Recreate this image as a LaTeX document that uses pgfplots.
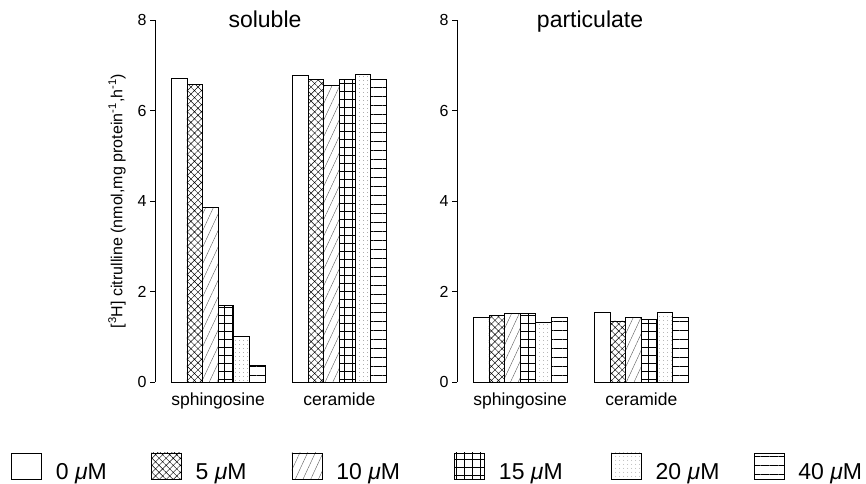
\documentclass[border=0pt]{standalone}
\usepackage{pgfplots}
\pgfplotsset{compat=1.18}
\usetikzlibrary{patterns.meta}
\usepackage{fontspec}
\setmainfont{Liberation Sans}

\newcommand{\lt}[2]{\raisebox{5.5pt}{\makebox[#1][l]{#2 \textit{μ}M}}}

\pgfplotsset{
  mybar/.style={ybar, bar width=0.1286, draw=black, line width=0.7pt,
    legend image code/.code={\draw[##1, line width=0.7pt] (0pt,-4pt) rectangle (30pt,22pt); \path (44pt,0pt);}},
  s0/.style={fill=white},
  s5/.style={pattern={Hatch[angle=45,distance=5pt,line width=0.45pt]}, pattern color=black},
  s10/.style={pattern={Lines[angle=65,distance=7pt,line width=0.4pt]}, pattern color=black!65},
  s15/.style={pattern={Hatch[angle=0,distance=8pt,line width=0.5pt]}, pattern color=black},
  s20/.style={pattern={Dots[distance=4pt,radius=0.45pt]}, pattern color=black!55},
  s40/.style={pattern={Lines[angle=0,distance=9pt,line width=0.6pt]}, pattern color=black},
  common/.style={
    scale only axis, width=245pt, height=362pt,
    xmin=-0.52, xmax=1.5, ymin=0, ymax=8,
    axis y line*=left, axis x line*=bottom,
    x axis line style={draw=none}, xtick style={draw=none},
    xtick={0,1}, xticklabels={sphingosine,ceramide},
    ytick={0,2,4,6,8}, tick align=outside, major tick length=5pt,
    y axis line style={line width=0.8pt}, ytick style={line width=0.8pt, black},
    /pgf/number format/assume math mode=true,
    yticklabel style={font=\fontsize{16}{19}\selectfont},
    xticklabel style={font=\fontsize{17.5}{21}\selectfont, yshift=-2pt},
    clip=false,
  },
}

\begin{document}
\begin{tikzpicture}
\useasboundingbox (0pt,0pt) rectangle (866pt,-483pt);

% soluble
\begin{axis}[common, at={(155pt,-382pt)}, anchor=south west,
  title={soluble},
  title style={at={(axis description cs:0.449,0.9627)}, anchor=base, font=\fontsize{23}{27}\selectfont},
  ylabel={[\textsuperscript{3}H] citrulline (nmol,mg protein\textsuperscript{-1},h\textsuperscript{-1})},
  every axis y label/.style={at={(axis description cs:-0.155,0.5)}, rotate=90, anchor=center, font=\fontsize{16}{19}\selectfont},
  legend columns=6, legend cell align=left,
  legend style={at={(axis description cs:-0.5878,-0.2417)}, anchor=west, draw=none, fill=none,
    inner sep=0pt, column sep=0pt, row sep=0pt,
    nodes={inner sep=0pt, font=\fontsize{23}{27}\selectfont}},
]
\addplot[mybar, bar shift=-0.3215, s0]  coordinates {(0,6.70) (1,6.78)};
\addplot[mybar, bar shift=-0.1929, s5]  coordinates {(0,6.57) (1,6.69)};
\addplot[mybar, bar shift=-0.0643, s10] coordinates {(0,3.85) (1,6.56)};
\addplot[mybar, bar shift=0.0643,  s15] coordinates {(0,1.70) (1,6.69)};
\addplot[mybar, bar shift=0.1929,  s20] coordinates {(0,1.02) (1,6.79)};
\addplot[mybar, bar shift=0.3215,  s40] coordinates {(0,0.36) (1,6.69)};
\legend{\lt{95pt}{0},\lt{96pt}{5},\lt{118pt}{10},\lt{112pt}{15},\lt{98pt}{20},\lt{62pt}{40}}
\end{axis}

% particulate
\begin{axis}[common, at={(457pt,-382pt)}, anchor=south west,
  title={particulate},
  title style={at={(axis description cs:0.543,0.9627)}, anchor=base, font=\fontsize{23}{27}\selectfont},
]
\addplot[mybar, bar shift=-0.3215, s0]  coordinates {(0,1.42) (1,1.54)};
\addplot[mybar, bar shift=-0.1929, s5]  coordinates {(0,1.48) (1,1.35)};
\addplot[mybar, bar shift=-0.0643, s10] coordinates {(0,1.52) (1,1.43)};
\addplot[mybar, bar shift=0.0643,  s15] coordinates {(0,1.51) (1,1.39)};
\addplot[mybar, bar shift=0.1929,  s20] coordinates {(0,1.32) (1,1.54)};
\addplot[mybar, bar shift=0.3215,  s40] coordinates {(0,1.42) (1,1.44)};
\end{axis}
\end{tikzpicture}
\end{document}
